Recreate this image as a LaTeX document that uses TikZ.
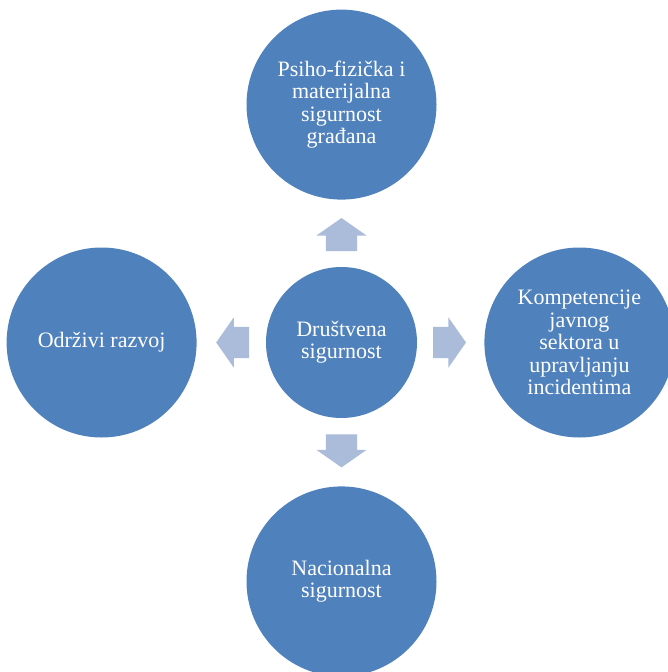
\documentclass[tikz,border=0pt]{standalone}
\usepackage{fontspec}
\setmainfont{Liberation Serif}
\usepackage{tikz}
\usetikzlibrary{shapes,arrows,positioning}
\definecolor{blue}{RGB}{79, 129, 189}
\definecolor{pale}{RGB}{170, 188, 218}
\tikzstyle{hub} = [circle, fill=blue, text=white, align=center, inner sep=0pt, font=\fontsize{22pt}{22.4pt}\selectfont, minimum size = 151pt]
\tikzstyle{goal} = [hub, minimum size = 190pt]
\tikzstyle{push} = [single arrow, fill=pale, draw=none, anchor=center, pos=0.4, minimum height=33pt, minimum width=0pt, inner xsep=0pt, inner ysep=15.5pt, single arrow head extend=9.5pt, single arrow tip angle=110, sloped, allow upside down]
\begin{document}
\begin{tikzpicture}
\useasboundingbox (0,0) rectangle (667pt,-672pt);

% central cell =============================
\node[hub] (ctr) at (341.5pt,-342.5pt) {Društvena\\sigurnost};
\node[goal, above=67pt of ctr] (psi) {Psiho-fizička i\\materijalna\\sigurnost\\građana};
\node[goal, left=69pt of ctr] (odr) {Održivi razvoj};
\node[goal, right=67pt of ctr] (komp) {Kompetencije\\javnog\\sektora u\\upravljanju\\incidentima};
\node[goal, below=68pt of ctr] (nac) {Nacionalna\\sigurnost};

% arrows
\path (ctr.north) -- (psi.south) node[push] (a1) {};
\path (ctr.west) -- (odr.east) node[push] (a2) {};
\path (ctr.east) -- (komp.west) node[push] (a3) {};
\path (ctr.south) -- (nac.north) node[push] (a4) {};

\end{tikzpicture}
\end{document}
